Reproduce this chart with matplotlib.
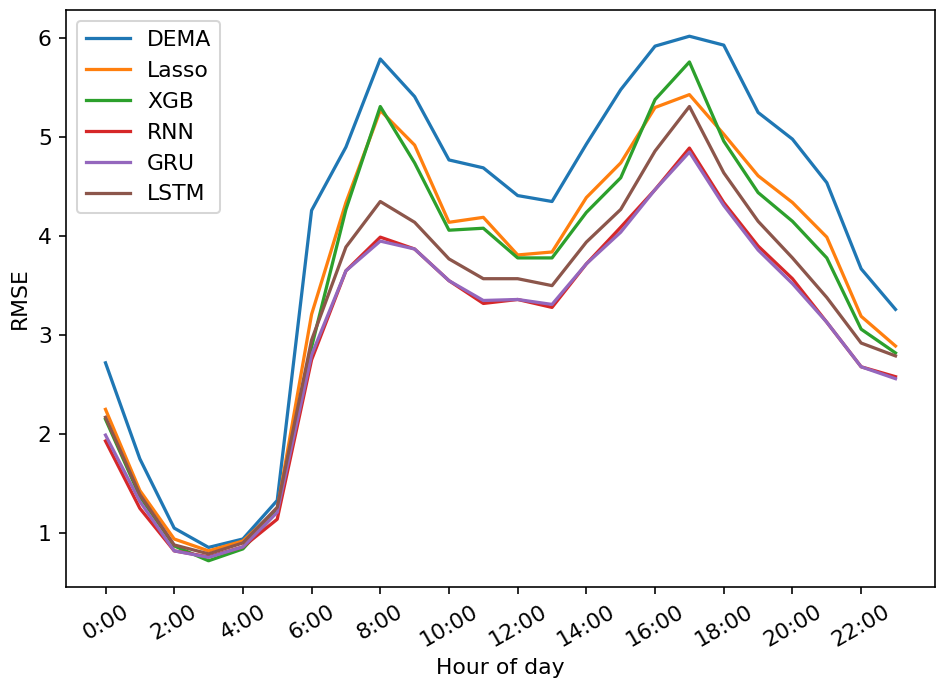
import matplotlib
matplotlib.use("Agg")
import matplotlib.pyplot as plt

hours = list(range(24))
tick_hours = list(range(0, 24, 2))
tick_labels = [f"{h}:00" for h in tick_hours]

dema = [2.72, 1.75, 1.05, 0.855, 0.94, 1.33, 4.26, 4.90, 5.79, 5.41, 4.77, 4.69,
        4.41, 4.35, 4.93, 5.48, 5.92, 6.02, 5.93, 5.25, 4.98, 4.54, 3.67, 3.26]
lasso = [2.25, 1.43, 0.94, 0.82, 0.92, 1.24, 3.21, 4.34, 5.27, 4.92, 4.14, 4.19,
         3.81, 3.84, 4.39, 4.74, 5.30, 5.43, 5.03, 4.61, 4.34, 3.99, 3.19, 2.89]
xgb = [2.15, 1.37, 0.87, 0.72, 0.84, 1.22, 2.88, 4.27, 5.31, 4.74, 4.06, 4.08,
       3.78, 3.78, 4.24, 4.59, 5.38, 5.76, 4.96, 4.44, 4.15, 3.78, 3.06, 2.82]
rnn = [1.93, 1.25, 0.82, 0.76, 0.86, 1.14, 2.75, 3.65, 3.99, 3.87, 3.55, 3.32,
       3.36, 3.28, 3.72, 4.09, 4.47, 4.89, 4.34, 3.90, 3.57, 3.13, 2.68, 2.58]
gru = [1.99, 1.32, 0.82, 0.755, 0.86, 1.21, 2.80, 3.65, 3.95, 3.87, 3.55, 3.35,
       3.36, 3.31, 3.72, 4.04, 4.47, 4.85, 4.31, 3.86, 3.52, 3.13, 2.68, 2.56]
lstm = [2.17, 1.39, 0.88, 0.79, 0.90, 1.26, 2.95, 3.89, 4.35, 4.14, 3.77, 3.57,
        3.57, 3.50, 3.94, 4.27, 4.86, 5.31, 4.64, 4.15, 3.78, 3.38, 2.92, 2.79]

series = [("DEMA", dema), ("Lasso", lasso), ("XGB", xgb),
          ("RNN", rnn), ("GRU", gru), ("LSTM", lstm)]

plt.rcParams["font.size"] = 10.8

fig = plt.figure(figsize=(937 / 146, 679 / 146), dpi=146)
ax = fig.add_axes([66 / 937, 1 - 587 / 679, (935 - 66) / 937, (587 - 10) / 679])
for name, vals in series:
    ax.plot(hours, vals, label=name, linewidth=1.6)
ax.set_xticks(tick_hours)
ax.set_xticklabels(tick_labels, rotation=30)
ax.set_xlabel("Hour of day")
ax.set_ylabel("RMSE")
ax.legend(loc="upper left")
fig.savefig("out.png", dpi=146)
